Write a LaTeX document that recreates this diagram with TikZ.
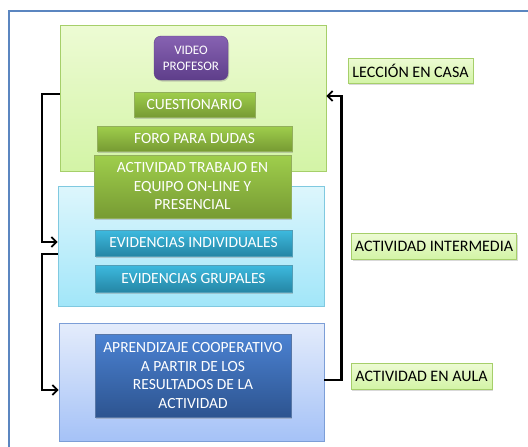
\documentclass[tikz,border=0pt]{standalone}
\usepackage{fontspec}
\setmainfont{Carlito}
\usetikzlibrary{arrows.meta,shadows}

\definecolor{marco}{HTML}{5B86C0}
\definecolor{verdeA}{HTML}{EDFBD4}
\definecolor{verdeB}{HTML}{D3F4A6}
\definecolor{verdeL}{HTML}{A6CF6A}
\definecolor{pastoA}{HTML}{9FCE4C}
\definecolor{pastoB}{HTML}{779B33}
\definecolor{moradoA}{HTML}{8762B2}
\definecolor{moradoB}{HTML}{5E3E8A}
\definecolor{cieloA}{HTML}{DDF6FC}
\definecolor{cieloB}{HTML}{A2E6F9}
\definecolor{cieloL}{HTML}{80C9E0}
\definecolor{aguaA}{HTML}{3DBADF}
\definecolor{aguaB}{HTML}{2586A5}
\definecolor{nubeA}{HTML}{E4ECFB}
\definecolor{nubeB}{HTML}{A5C2F7}
\definecolor{nubeL}{HTML}{7C9ED7}
\definecolor{marA}{HTML}{4B82D2}
\definecolor{marB}{HTML}{2D5490}

\begin{document}
\begin{tikzpicture}[x=1pt, y=-1pt,
  font=\fontsize{15.5}{18.5}\selectfont,
  fase/.style={draw, line width=0.8pt, minimum width=266pt, inner sep=0pt},
  caja/.style={text=white, align=center, inner sep=0pt, drop shadow={shadow xshift=1pt, shadow yshift=-1.5pt, opacity=0.35}},
  verde/.style={caja, top color=pastoA, bottom color=pastoB, draw=pastoB!80!white, line width=0.4pt},
  celeste/.style={caja, top color=aguaA, bottom color=aguaB, draw=aguaB!80!white, line width=0.4pt},
  azul/.style={caja, top color=marA, bottom color=marB, draw=marB!80!white, line width=0.4pt},
  etiqueta/.style={draw=verdeL, line width=0.8pt, top color=verdeA, bottom color=verdeB, inner sep=0pt, minimum height=25pt, font=\fontsize{16}{19}\selectfont, drop shadow={shadow xshift=1pt, shadow yshift=-1.5pt, opacity=0.3}},
  flecha/.style={line width=2.2pt, -{Straight Barb[length=5pt, width=10pt, line width=1.8pt]}}]
  \useasboundingbox (0,0) rectangle (528,447);

  % Marco
  \draw[marco, line width=1.5pt] (530,11) -- (9,11) -- (9,449);

  % Fases
  \node[fase, draw=verdeL, top color=verdeA, bottom color=verdeB, minimum height=146pt] (casa) at (193,98) {};
  \node[fase, draw=cieloL, top color=cieloA, bottom color=cieloB, minimum height=120pt] (inter) at (191,246) {};
  \node[fase, draw=nubeL, top color=nubeA, bottom color=nubeB, minimum width=265pt, minimum height=118pt] (aula) at (191.5,382) {};

  % Lección en casa
  \node[caja, rounded corners=7pt, top color=moradoA, bottom color=moradoB, draw=moradoB, minimum width=74pt, minimum height=44pt, font=\fontsize{13}{16}\selectfont] (video) at (191,58) {VIDEO\\PROFESOR};
  \node[verde, minimum width=121pt, minimum height=25pt] (cuest) at (194.5,104.5) {CUESTIONARIO};
  \node[verde, minimum width=195pt, minimum height=25pt] (foro) at (194.5,138.5) {FORO PARA DUDAS};
  \node[verde, minimum width=197pt, minimum height=63pt] (trabajo) at (192.5,186.5) {ACTIVIDAD TRABAJO EN\\EQUIPO ON-LINE Y\\PRESENCIAL};

  % Actividad intermedia
  \node[celeste, minimum width=197pt, minimum height=26pt] (evInd) at (193.5,243) {EVIDENCIAS INDIVIDUALES};
  \node[celeste, minimum width=197pt, minimum height=27pt] (evGrup) at (193.5,278.5) {EVIDENCIAS GRUPALES};

  % Actividad en aula
  \node[azul, minimum width=196pt, minimum height=83pt] (aprend) at (193,375.5) {APRENDIZAJE COOPERATIVO\\A PARTIR DE LOS\\RESULTADOS DE LA\\ACTIVIDAD};

  % Etiquetas
  \node[etiqueta, minimum width=125pt] (lblCasa) at (410.5,70.5) {LECCIÓN EN CASA};
  \node[etiqueta, minimum width=165pt, minimum height=26pt] (lblInter) at (434,246) {ACTIVIDAD INTERMEDIA};
  \node[etiqueta, minimum width=141pt, minimum height=26pt] (lblAula) at (421.5,376) {ACTIVIDAD EN AULA};

  % Flechas
  \draw[flecha] ([yshift=4pt]casa.west) -- ++(-18,0) |- ([yshift=4pt]inter.west);
  \draw[flecha] ([yshift=-8pt]inter.west) -- ++(-16,0) |- ([yshift=-8pt]aula.west);
  \draw[flecha] ([yshift=2pt]aula.east) -- ++(17,0) |- ([yshift=2pt]casa.east);
\end{tikzpicture}
\end{document}
